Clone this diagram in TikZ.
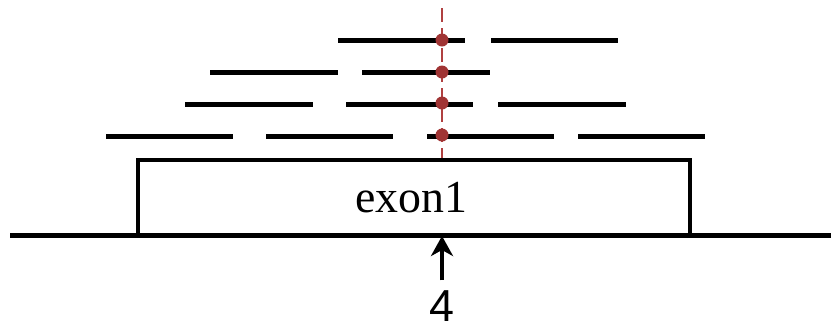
\documentclass[tikz,border=0pt]{standalone}
\usepackage{fontspec}
\setmainfont{Liberation Serif}
\setsansfont{Liberation Sans}
\usetikzlibrary{arrows.meta,positioning}
\definecolor{readink}{HTML}{000000}
\definecolor{snpred}{HTML}{B04040}
\definecolor{snpdot}{HTML}{A03434}

\begin{document}
\begin{tikzpicture}[x=1bp,y=-1bp,>={Stealth[length=20bp,width=22bp,inset=6bp]},line cap=butt,
  readline/.style={readink,line width=5bp},
  snpdot/.style={circle,inner sep=0pt,minimum size=13bp,fill=snpdot},
  exonbox/.style={draw=readink,line width=3.5bp,minimum width=552bp,minimum height=75bp,inner sep=0pt,font=\fontsize{46}{46}\selectfont}]
\path[use as bounding box] (0,0) rectangle (831,327);
% genome and exon
\draw[readline] (10,235) -- (831,235);
\node[exonbox,fill=white] (exon) at (414,197.5) {\hspace*{-6bp}exon1};
% reads piled on the exon
\foreach \xa/\xb/\yy in {338/465/40,491/618/40,
  210/338/72,362/490/72,
  185/313/104,346/473/104,498/626/104,
  106/233/136,266/393/136,427/554/136,578/705/136}
  \draw[readline] (\xa,\yy) -- (\xb,\yy);
% variant position
\coordinate (snptop) at (442,8);
\coordinate (snpbot) at (442,236);
\draw[snpred,line width=2bp,dash pattern=on 14bp off 6bp] (snptop) -- (442,158);
\foreach \yy [count=\i] in {40,72,103,135}
  \node[snpdot] (dot\i) at (442,\yy) {};
\node[font=\sffamily\fontsize{45}{45}\selectfont,inner sep=0pt] (pos) at (442,306) {4};
\draw[->,line width=4.5bp] ([yshift=10bp]pos.north) -- (snpbot);
\end{tikzpicture}
\end{document}
